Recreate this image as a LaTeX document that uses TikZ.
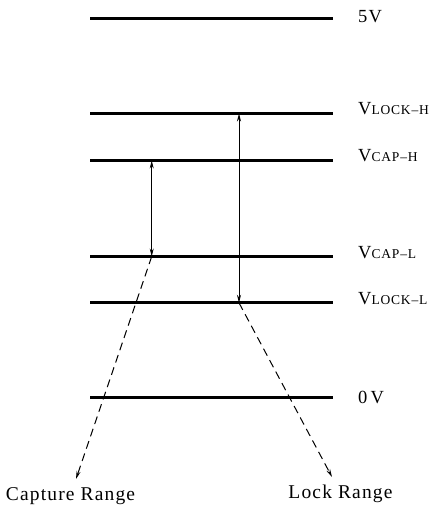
\documentclass[tikz,border=0pt]{standalone}
\usepackage{fontspec}
\setmainfont{Liberation Serif}[LetterSpace=6]
\usetikzlibrary{arrows.meta}
\begin{document}
\begin{tikzpicture}[x=1pt,y=-1pt,
  level/.style={line width=2.8pt},
  spanarrow/.style={line width=0.9pt,{Stealth[length=8pt,width=4pt]}-{Stealth[length=8pt,width=4pt]}},
  pointer/.style={line width=1pt,dash pattern=on 8pt off 5pt,-{Stealth[length=8pt,width=4pt]}},
  lbl/.style={anchor=base west,inner sep=0pt,font=\fontsize{18.5}{20}\selectfont},
  caplbl/.style={anchor=base,inner sep=0pt,font=\fontsize{19.5}{22}\selectfont}]
\useasboundingbox (0,0) rectangle (428,510);
\newcommand{\sm}[1]{{\fontsize{13.5}{14}\selectfont #1}}
% levels
\coordinate (a1) at (90,18.3);  \coordinate (b1) at (333,18.3);
\coordinate (a2) at (90,113.5); \coordinate (b2) at (333,113.5);
\coordinate (a3) at (90,160.5); \coordinate (b3) at (333,160.5);
\coordinate (a4) at (90,256.5); \coordinate (b4) at (333,256.5);
\coordinate (a5) at (90,302.8); \coordinate (b5) at (333,302.8);
\coordinate (a6) at (90,397.8); \coordinate (b6) at (333,397.8);
\foreach \i in {1,...,6} \draw[level] (a\i) -- (b\i);
% labels
\node[lbl] (l1) at (358,23) {5V};
\node[lbl] (l2) at (358,115) {V\sm{LOCK–H}};
\node[lbl] (l3) at (358,162) {V\sm{CAP–H}};
\node[lbl] (l4) at (358,258) {V\sm{CAP–L}};
\node[lbl] (l5) at (358,304) {V\sm{LOCK–L}};
\node[lbl] (l6) at (358,403) {0\,V};
% range arrows
\coordinate (ct) at (151.7,160.5); \coordinate (cb) at (151.7,256.5);
\coordinate (lt) at (239,113.5);   \coordinate (lb) at (239,302.8);
\draw[spanarrow] (ct) -- (cb);
\draw[spanarrow] (lt) -- (lb);
% pointers
\node[caplbl] (cr) at (70.5,500) {Capture Range};
\node[caplbl] (lr) at (340.5,498) {Lock Range};
\coordinate (ctip) at (76,479);
\coordinate (ltip) at (332,477);
\draw[pointer] (cb) -- (ctip);
\draw[pointer] (lb) -- (ltip);
\end{tikzpicture}
\end{document}
